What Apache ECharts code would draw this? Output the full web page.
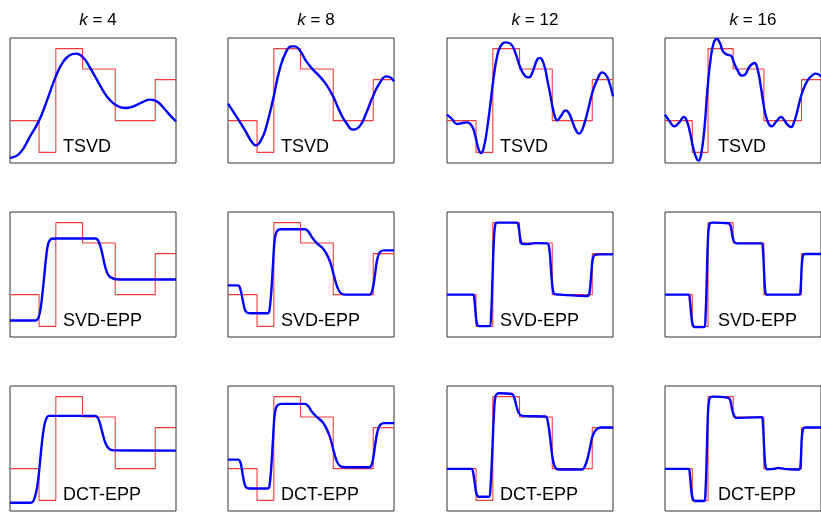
<!DOCTYPE html>
<html>
<head>
<meta charset="utf-8">
<script src="https://cdn.jsdelivr.net/npm/echarts@6/dist/echarts.min.js"></script>
<style>
html,body{margin:0;padding:0;background:#fff;}
#c{width:821px;height:513px;}
</style>
</head>
<body>
<div id="c"></div>
<script>
// ---- data (normalised panel units: x 0..100, y 0..100) ----
const kValues = [4, 8, 12, 16];
const methods = ['TSVD', 'SVD-EPP', 'DCT-EPP'];

// true piecewise-constant signal (red)
const stepX = [0, 17.5, 27.6, 43.7, 63.4, 87.5, 100];
const stepLevels = [33.9, 8.5, 91.5, 75.2, 33.9, 66.7, 66.7];

// reconstructions (blue)
const tsvd4 = [[0,4.0],[6.0,8.0],[12.1,21.3],[17.5,33.9],[22.1,49.3],[27.6,69.3],[32.2,81.3],[36.2,86.4],[39.8,87.5],[44.3,84.0],[48.3,76.0],[52.3,66.7],[56.3,57.3],[60.4,50.1],[64.4,45.9],[69.4,44.0],[74.4,45.3],[79.5,48.5],[84.5,50.7],[88.5,49.3],[92.6,44.0],[96.6,37.9],[100,33.3]];
const tsvd8 = [[0,47.5],[5.0,37.3],[10.0,26.7],[14.1,17.3],[16.7,14.1],[20.1,18.7],[23.1,29.3],[27.1,50.7],[31.1,74.7],[35.1,89.3],[38.2,93.3],[40.2,93.3],[43.2,90.1],[47.2,81.3],[51.2,74.7],[55.2,69.3],[59.2,62.7],[63.3,53.3],[67.3,41.3],[71.3,32.0],[75.3,26.7],[79.3,29.3],[83.3,40.0],[87.3,53.3],[91.4,64.0],[95.4,69.3],[97.4,68.8],[100,65.3]];
const tsvd12 = [[0,38.7],[3.0,35.2],[6.0,31.2],[9.1,32.0],[12.1,32.5],[15.1,29.3],[17.1,21.3],[19.1,10.7],[20.5,8.0],[22.1,12.0],[24.1,26.7],[26.2,48.0],[28.2,69.3],[30.2,85.3],[32.2,93.3],[35.2,96.5],[38.2,95.5],[41.2,88.0],[44.3,76.0],[47.3,69.3],[49.3,68.5],[51.3,72.0],[54.3,82.7],[55.9,84.0],[58.4,78.7],[60.4,66.7],[62.4,53.3],[64.4,40.0],[66.4,34.1],[68.8,37.9],[71.4,42.1],[73.4,40.0],[75.5,33.3],[77.5,26.7],[79.5,23.5],[81.5,26.7],[84.5,40.0],[87.5,56.0],[90.5,66.7],[93.6,72.5],[95.6,70.7],[97.6,65.3],[100,53.3]];
const tsvd16 = [[0,38.7],[3.0,33.3],[6.0,29.3],[9.1,32.5],[12.1,36.8],[14.1,33.3],[16.1,24.0],[18.1,12.0],[20.1,4.0],[21.5,1.9],[23.1,6.7],[25.2,26.7],[27.2,58.7],[29.2,82.7],[31.2,96.0],[33.2,99.2],[35.2,96.0],[37.2,89.3],[39.8,86.7],[42.3,85.9],[44.3,80.0],[46.3,74.7],[49.3,69.9],[51.3,70.7],[54.3,77.3],[57.3,80.0],[59.4,74.7],[61.4,61.3],[63.4,45.3],[65.4,34.7],[68.4,29.3],[71.4,33.3],[74.4,36.8],[76.5,34.1],[78.5,30.7],[80.9,28.8],[82.5,32.0],[84.5,40.0],[87.5,54.7],[90.5,64.0],[92.6,68.0],[94.2,69.9],[96.6,71.5],[100,69.3]];

const svdEpp4 = [[0,13.2],[15.1,13.2],[17.1,15.3],[18.5,23.3],[20.1,41.8],[21.7,63.0],[23.1,74.9],[25.2,78.6],[28.2,78.8],[51.3,78.8],[53.3,76.7],[55.3,68.3],[57.3,56.3],[59.4,49.2],[62.4,46.6],[66.4,46.0],[100,46.0]];
const svdEpp8 = [[0,41.3],[6.0,41.3],[7.4,38.6],[9.0,28.6],[10.6,20.6],[13.1,19.0],[24.1,19.0],[25.1,22.8],[26.1,36.5],[27.1,57.7],[28.1,77.5],[29.5,84.7],[32.1,86.2],[46.2,86.2],[48.2,84.7],[50.8,79.4],[53.6,74.9],[56.8,71.4],[59.2,66.9],[61.6,59.8],[63.7,49.7],[65.7,40.5],[67.7,35.4],[70.9,33.9],[85.3,33.9],[86.9,37.0],[88.4,48.4],[89.8,61.6],[91.4,67.7],[93.8,69.3],[100,69.3]];
const svdEpp12 = [[0,33.9],[15.7,33.9],[16.5,29.9],[17.3,18.0],[18.1,10.1],[19.3,8.7],[25.6,8.7],[26.6,18.0],[27.4,47.1],[28.2,76.2],[29.2,90.7],[30.6,91.5],[41.9,91.5],[43.1,88.9],[44.1,78.8],[45.3,74.6],[48.3,74.3],[53.3,75.1],[60.4,74.9],[61.6,70.9],[62.6,55.0],[63.6,39.2],[64.8,34.4],[68.4,33.9],[75.5,33.3],[84.5,32.8],[85.7,34.4],[86.7,47.1],[87.7,61.6],[88.9,65.6],[91.5,66.1],[100,66.1]];
const svdEpp16 = [[0,33.9],[15.1,33.9],[15.9,29.9],[16.9,16.7],[17.9,9.3],[19.1,7.9],[25.2,7.9],[26.0,16.7],[26.8,47.1],[27.6,80.2],[28.6,90.7],[30.2,91.5],[40.6,91.0],[42.1,88.9],[43.1,81.5],[44.3,76.2],[46.3,74.9],[62.0,74.9],[62.8,69.6],[63.6,49.7],[64.4,35.4],[65.6,33.9],[86.1,33.9],[86.9,37.8],[87.7,57.7],[88.5,65.6],[90.1,66.4],[100,66.4]];

const dctEpp4 = [[0,6.6],[12.5,6.6],[14.1,8.0],[15.7,14.6],[17.1,26.5],[18.5,45.1],[20.1,63.7],[21.7,73.5],[23.7,76.1],[51.3,76.1],[53.3,73.5],[55.3,64.5],[57.3,54.9],[59.4,50.1],[62.4,48.5],[100,48.3]];
const dctEpp8 = [[0,41.1],[6.0,41.1],[7.6,38.5],[9.0,27.9],[10.6,19.4],[13.1,18.0],[24.1,18.0],[25.1,21.2],[26.1,35.8],[27.1,57.0],[28.1,76.9],[29.5,84.1],[32.1,85.7],[46.2,85.7],[48.2,84.1],[50.8,79.0],[53.6,75.1],[56.8,71.4],[59.2,66.3],[61.6,58.4],[63.7,47.7],[65.7,39.3],[67.7,35.8],[70.9,35.0],[85.3,35.0],[86.9,38.5],[88.4,50.4],[89.8,62.3],[91.4,68.4],[93.8,70.3],[100,70.3]];
const dctEpp12 = [[0,33.7],[14.7,33.7],[15.7,31.0],[16.7,22.5],[17.7,14.1],[19.1,11.4],[25.2,11.4],[26.2,19.4],[27.2,45.1],[28.2,75.6],[29.2,91.5],[31.2,94.2],[39.2,93.6],[40.6,90.2],[41.9,83.6],[43.3,78.2],[45.3,76.1],[59.4,75.6],[60.8,70.8],[62.0,59.7],[63.4,44.3],[64.8,35.8],[67.4,33.2],[81.5,33.2],[82.9,35.3],[84.5,41.1],[86.1,50.4],[87.5,59.2],[89.5,64.5],[92.6,66.8],[100,66.8]];
const dctEpp16 = [[0,33.7],[15.1,33.7],[15.9,29.7],[16.9,15.9],[17.9,9.3],[19.1,8.0],[25.2,8.0],[26.0,16.7],[26.8,46.4],[27.6,79.6],[28.6,90.2],[30.2,91.5],[40.6,90.5],[41.9,88.3],[42.9,82.2],[44.1,76.9],[45.9,74.5],[62.0,75.1],[62.8,69.0],[63.6,49.1],[64.4,35.8],[65.6,33.4],[70.0,33.7],[72.4,34.5],[76.5,33.7],[82.5,33.2],[86.1,33.2],[86.9,37.1],[87.7,58.4],[88.5,65.5],[90.1,66.8],[100,66.8]];

const recon = [
  [tsvd4, tsvd8, tsvd12, tsvd16],
  [svdEpp4, svdEpp8, svdEpp12, svdEpp16],
  [dctEpp4, dctEpp8, dctEpp12, dctEpp16]
];

// ---- layout ----
const colLeft = [10, 228, 447, 665];
const rowTop = [38, 212, 386];
const panelW = 166, panelH = 125;
const FONT = "'Liberation Sans', Arial, Helvetica, sans-serif";
const smoothByRow = [0.5, 0.35, 0.35];

const grid = [], xAxis = [], yAxis = [], series = [], graphic = [], title = [];
const stepData = stepX.map((x, i) => [x, stepLevels[i]]);

let gi = 0;
for (let r = 0; r < 3; r++) {
  for (let c = 0; c < 4; c++) {
    grid.push({left: colLeft[c], top: rowTop[r], width: panelW, height: panelH,
      show: true, borderColor: '#333', borderWidth: 1, backgroundColor: 'transparent'});
    xAxis.push({gridIndex: gi, type: 'value', min: 0, max: 100, show: false});
    yAxis.push({gridIndex: gi, type: 'value', min: 0, max: 100, show: false});
    series.push({type: 'line', xAxisIndex: gi, yAxisIndex: gi, data: stepData, step: 'end',
      symbol: 'none', lineStyle: {color: '#f03c3c', width: 1.1}, silent: true, animation: false, z: 2});
    series.push({type: 'line', xAxisIndex: gi, yAxisIndex: gi, data: recon[r][c], smooth: smoothByRow[r],
      symbol: 'none', lineStyle: {color: '#0000ff', width: 2.4}, silent: true, animation: false, z: 3});
    graphic.push({type: 'text', left: colLeft[c] + 53, top: rowTop[r] + 100, z: 10,
      style: {text: methods[r], font: '18px ' + FONT, fill: '#000'}});
    gi++;
  }
}
for (let c = 0; c < 4; c++) {
  title.push({text: '{k|k} = ' + kValues[c], left: colLeft[c] + panelW / 2, top: 7, textAlign: 'center',
    textStyle: {fontFamily: FONT, fontSize: 17, fontWeight: 'normal', color: '#000',
      rich: {k: {fontFamily: FONT, fontSize: 17, fontStyle: 'italic', color: '#000'}}}});
}

const chart = echarts.init(document.getElementById('c'), null, {renderer: 'canvas'});
chart.setOption({animation: false, backgroundColor: '#fff', title, grid, xAxis, yAxis, series, graphic});
</script>
</body>
</html>
